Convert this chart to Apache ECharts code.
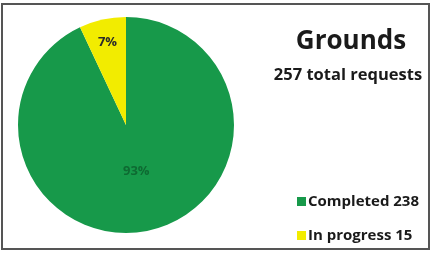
<!DOCTYPE html>
<html><head><meta charset="utf-8">
<script src="https://cdn.jsdelivr.net/npm/echarts@6/dist/echarts.min.js"></script>
<style>html,body{margin:0;padding:0;background:#fff}#c{width:435px;height:254px}</style>
</head><body><div id="c"></div>
<script>
const categories = ['Completed', 'In progress'];
const counts = [238, 15];
const shares = [93, 7];
const titleText = 'Grounds';
const subtitleText = '257 total requests';
const colors = ['#17994a', '#f2ec00'];

const FONT = 'Open Sans';
const chart = echarts.init(document.getElementById('c'), null, {renderer: 'canvas'});
const pieData = categories.map((c, i) => ({name: c, value: shares[i], itemStyle: {color: colors[i]}}));
const center = [126, 125];

chart.setOption({
  animation: false,
  graphic: [{type: 'rect', shape: {x: 2, y: 4, width: 427, height: 245}, style: {fill: 'none', stroke: '#555', lineWidth: 2}, silent: true}],
  title: [
    {text: titleText, left: 346, top: 24, textAlign: 'center', textStyle: {fontFamily: FONT, fontWeight: 'bold', fontSize: 26, color: '#1a1a1a'}},
    {text: subtitleText, left: 343, top: 62, textAlign: 'center', textStyle: {fontFamily: FONT, fontWeight: 'bold', fontSize: 16.5, color: '#1a1a1a'}}
  ],
  legend: {
    orient: 'vertical', left: 292, top: 189, itemWidth: 9, itemHeight: 9, itemGap: 19,
    icon: 'rect', selectedMode: false,
    data: categories,
    formatter: n => n + ' ' + counts[categories.indexOf(n)],
    textStyle: {fontFamily: FONT, fontWeight: 'bold', fontSize: 15, color: '#1a1a1a', padding: [0, 0, 0, -3]}
  },
  series: [
    {type: 'pie', center: center, radius: [0, 108], startAngle: 90, clockwise: true,
     label: {show: false}, labelLine: {show: false}, silent: true,
     itemStyle: {borderWidth: 0}, data: pieData},
    {type: 'pie', center: center, radius: [56, 108], startAngle: 90, clockwise: true, silent: true,
     itemStyle: {color: 'rgba(0,0,0,0)'}, labelLine: {show: false},
     data: categories.map((c, i) => ({name: c, value: shares[i], itemStyle: {color: 'rgba(0,0,0,0)'},
       label: {show: i === 1, position: 'inside', formatter: shares[i] + '%', fontFamily: FONT, fontWeight: 'bold', fontSize: 13, color: '#2a2a2a'}}))},
    {type: 'pie', center: center, radius: [0, 88], startAngle: 90, clockwise: true, silent: true,
     labelLine: {show: false},
     data: categories.map((c, i) => ({name: c, value: shares[i], itemStyle: {color: 'rgba(0,0,0,0)'},
       label: {show: i === 0, position: 'inside', formatter: shares[i] + '%', fontFamily: FONT, fontWeight: 'bold', fontSize: 13, color: '#0e6a32'}}))}
  ]
});
</script></body></html>
